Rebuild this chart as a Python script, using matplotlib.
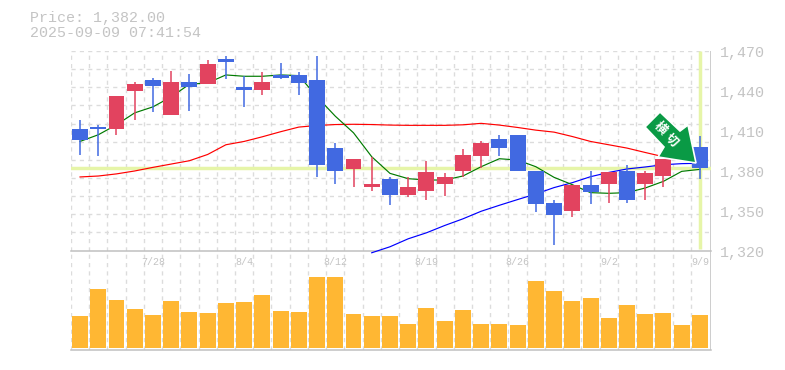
"""
Candlestick chart with moving averages and a volume panel.
Saved as out.png at 785x370.
"""

import numpy as np
import matplotlib
matplotlib.use("Agg")
import matplotlib.pyplot as plt
from matplotlib.patches import Polygon

W, H = 785, 370

opens = [1411, 1413, 1411, 1440, 1448, 1422, 1447, 1445, 1464, 1443, 1441, 1452,
         1452, 1448, 1397, 1381, 1368, 1374, 1362, 1365, 1370, 1380, 1391, 1404,
         1407, 1380, 1356, 1350, 1369, 1370, 1380, 1370, 1376, 1400, 1398]
closes = [1403, 1411, 1436, 1445, 1444, 1447, 1443, 1460, 1462, 1441, 1447, 1450,
          1446, 1384, 1380, 1389, 1370, 1362, 1368, 1379, 1375, 1392, 1401, 1397,
          1380, 1355, 1347, 1369, 1364, 1379, 1358, 1378, 1389, 1392, 1382]
highs = [1418, 1414, 1436, 1447, 1450, 1455, 1453, 1463, 1466, 1451, 1454, 1461,
         1454, 1466, 1401, 1389, 1390, 1375, 1375, 1387, 1378, 1396, 1402, 1407,
         1407, 1380, 1358, 1369, 1380, 1379, 1384, 1380, 1389, 1403, 1406]
lows = [1392, 1391, 1407, 1418, 1424, 1422, 1425, 1445, 1449, 1428, 1437, 1449,
        1437, 1375, 1370, 1368, 1365, 1354, 1360, 1358, 1361, 1375, 1382, 1391,
        1380, 1349, 1324, 1345, 1355, 1356, 1356, 1358, 1368, 1388, 1374]

ma_short = [1402, 1407, 1414.5, 1423.5, 1428, 1435.5, 1445, 1446, 1452, 1451, 1451, 1452,
            1451.5, 1435.5, 1421, 1408.5, 1390.5, 1378, 1374, 1373, 1373, 1376, 1383, 1389,
            1388, 1383, 1375, 1369.5, 1363.5, 1363, 1363.5, 1367, 1372, 1379.5, 1381]
ma_mid = [1375.3, 1376, 1377.6, 1379.8, 1382.5, 1385, 1387.5, 1392.2, 1399.5, 1402, 1405.5, 1409.3,
          1412.8, 1414, 1414.7, 1414.9, 1414.7, 1414.3, 1414.1, 1414.1, 1414.1, 1414.5, 1415.6, 1414.3,
          1412.5, 1410.5, 1409, 1405.7, 1402, 1399.5, 1397, 1393.7, 1390.5, 1388, 1386]
ma_long = [1318.3, 1322.8, 1328.8, 1333.3, 1338.8, 1343.8, 1349.5, 1354, 1358.3, 1362.5,
           1367.3, 1371, 1375.5, 1378.7, 1381.3, 1382.8, 1384.5, 1385.3, 1385.6]
ma_long_start = 16

volumes = [3230, 5930, 4830, 3930, 3330, 4730, 3630, 3530, 4530, 4630, 5330, 3730,
           3630, 7130, 7130, 3430, 3230, 3230, 2430, 4030, 2730, 3830, 2430, 2430,
           2330, 6730, 5730, 4730, 5030, 3030, 4330, 3430, 3530, 2330, 3330]

price_ticks = [1320, 1350, 1380, 1410, 1440, 1470]
date_ticks = [4, 9, 14, 19, 24, 29, 34]
date_labels = ["7/28", "8/4", "8/12", "8/19", "8/26", "9/2", "9/9"]

last_price = 1382
title_lines = ["Price: 1,382.00", "2025-09-09 07:41:54"]

BLUE = "#4169e1"
RED = "#e2435f"
ORANGE = "#ffb733"
HIGHLIGHT = "#e6f5a8"
GRID = "#dcdcdc"
AXIS = "#c0c0c0"
TEXT = "#c4c4c4"
MONO = "Liberation Mono"


def px_box(left, top, right, bottom):
    # axes rectangle from pixel edges, y measured from the top
    return [left / W, 1 - bottom / H, (right - left) / W, (bottom - top) / H]


def px(x, y):
    return x / W, 1 - y / H


fig = plt.figure(figsize=(W / 100, H / 100), dpi=100)
ax = fig.add_axes(px_box(70.9, 51, 710.5, 250.5))
ax_vol = fig.add_axes(px_box(70.9, 250.5, 710.5, 350))

xs = np.arange(len(opens))
xlim = (-0.5, 34.58)
grid_x = xs[:-1] + 0.5

ax.set_xlim(xlim)
ax.set_ylim(1320, 1470)
ax_vol.set_xlim(xlim)
ax_vol.set_ylim(-170, 9780)

for a in (ax, ax_vol):
    a.patch.set_alpha(0)
    a.set_xticks([])
    a.set_yticks([])
    for s in a.spines.values():
        s.set_visible(False)
    a.axvline(-0.5, color=GRID, lw=1, ls=(0, (3, 3)), zorder=1)
    for gx in grid_x:
        a.axvline(gx, color=GRID, lw=1, ls=(0, (3, 3)), zorder=1)
    a.axvline(xlim[1], color=AXIS, lw=1.1, zorder=2)
    a.axhline(a.get_ylim()[0], color=AXIS, lw=1.1, zorder=2, clip_on=False)

# ------------------------------------------------------------------
# price panel
# ------------------------------------------------------------------
for gy in np.linspace(1320, 1470, 12)[1:]:
    ax.axhline(gy, color=GRID, lw=1, ls=(0, (3, 3)), zorder=1)

ax.axhline(last_price, color=HIGHLIGHT, lw=2.5, zorder=2)
ax.plot([34, 34], [1321, 1470], color=HIGHLIGHT, lw=2.5, zorder=2, solid_capstyle="butt")

ax.plot(xs, ma_mid, color="#ff0000", lw=0.85, zorder=3)
ax.plot(xs[ma_long_start:], ma_long, color="#0000ff", lw=0.85, zorder=3, clip_on=False)
ax.plot(xs, ma_short, color="#007a00", lw=0.85, zorder=3)

colors = [RED if c > o else BLUE for o, c in zip(opens, closes)]
ax.vlines(xs, lows, highs, colors=colors, lw=1.1, zorder=4)
ax.bar(xs, np.abs(np.array(closes) - np.array(opens)),
       bottom=np.minimum(opens, closes), width=0.875, color=colors, zorder=5)

# ------------------------------------------------------------------
# volume panel
# ------------------------------------------------------------------
ax_vol.bar(xs, volumes, width=0.875, color=ORANGE, zorder=3)

# ------------------------------------------------------------------
# text
# ------------------------------------------------------------------
for i, label in zip(date_ticks, date_labels):
    ax_vol.text(i, 8630, label, ha="center", va="center", fontsize=7.2,
                family=MONO, color=TEXT)

for p in price_ticks:
    y = 51 + (1470 - p) / 150 * 199.5 + 2
    fig.text(*px(720, y), f"{p:,}", ha="left", va="center", fontsize=10.8,
             family=MONO, color=TEXT)

fig.text(*px(30, 18), title_lines[0], ha="left", va="center", fontsize=10.8,
         family=MONO, color=TEXT)
fig.text(*px(30, 33), title_lines[1], ha="left", va="center", fontsize=10.8,
         family=MONO, color=TEXT)

# ------------------------------------------------------------------
# arrow badge
# ------------------------------------------------------------------
arrow_px = [(660, 112), (645, 127), (664, 147), (658, 157), (696, 163), (688, 125), (680, 131)]
fig.add_artist(Polygon([px(x, y) for x, y in arrow_px], closed=True, transform=fig.transFigure,
                       facecolor="#0a9a45", edgecolor="white", lw=1.2, joinstyle="miter",
                       zorder=10))
fig.text(*px(660.7, 128), "横", rotation=-45, ha="center", va="center", fontsize=9,
         family="Noto Sans CJK JP", fontweight="bold", color="white", zorder=11)
fig.text(*px(671.7, 140), "切", rotation=-45, ha="center", va="center", fontsize=9,
         family="Noto Sans CJK JP", fontweight="bold", color="white", zorder=11)

fig.savefig("out.png", dpi=100)
plt.close(fig)
